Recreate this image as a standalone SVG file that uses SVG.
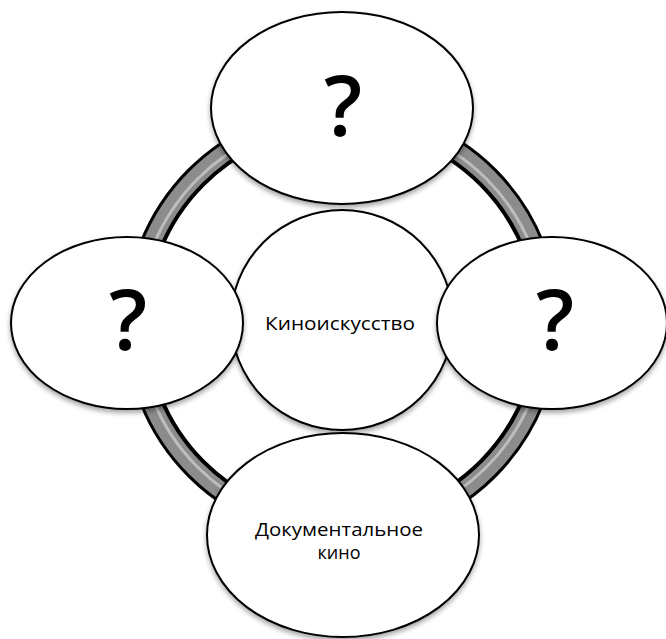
<svg xmlns="http://www.w3.org/2000/svg" width="666" height="639" viewBox="0 0 666 639">
  <defs>
    <filter id="sh" x="-10%" y="-10%" width="120%" height="125%">
      <feDropShadow dx="0" dy="3" stdDeviation="2.5" flood-color="#000" flood-opacity="0.35"/>
    </filter>
  </defs>
  <style>
    .node { fill: #ffffff; stroke: #000000; stroke-width: 2; filter: url(#sh); }
    .q { font-family: "Open Sans", "Noto Sans", sans-serif; font-size: 84px; font-weight: 600; fill: #000; text-anchor: middle; }
    .lbl { font-family: "Open Sans", "Noto Sans", sans-serif; font-size: 18px; fill: #000; text-anchor: middle; }
  </style>
  <rect width="666" height="639" fill="#ffffff"/>
  <g id="connectors">
    <circle cx="342" cy="323" r="206" fill="none" stroke="#000" stroke-width="24"/>
    <circle cx="342" cy="323" r="206.5" fill="none" stroke="#8c8c8c" stroke-width="17"/>
    <circle cx="342" cy="323" r="204" fill="none" stroke="#c9c9c9" stroke-width="3" opacity="0.8"/>
  </g>
  <g id="node-center">
    <ellipse class="node" cx="342" cy="320" rx="111" ry="110"/>
    <text class="lbl" x="340" y="330" textLength="150" lengthAdjust="spacingAndGlyphs">Киноискусство</text>
  </g>
  <g id="node-top">
    <ellipse class="node" cx="342" cy="108" rx="131" ry="96"/>
    <text class="q" x="343" y="136">?</text>
  </g>
  <g id="node-left">
    <ellipse class="node" cx="127" cy="323" rx="116" ry="86"/>
    <text class="q" x="128" y="350">?</text>
  </g>
  <g id="node-right">
    <ellipse class="node" cx="552" cy="323" rx="115" ry="86"/>
    <text class="q" x="555" y="350">?</text>
  </g>
  <g id="node-bottom">
    <ellipse class="node" cx="343" cy="535" rx="136" ry="102"/>
    <text class="lbl" x="339" y="536" textLength="168" lengthAdjust="spacingAndGlyphs">Документальное</text>
    <text class="lbl" x="339" y="559">кино</text>
  </g>
</svg>
